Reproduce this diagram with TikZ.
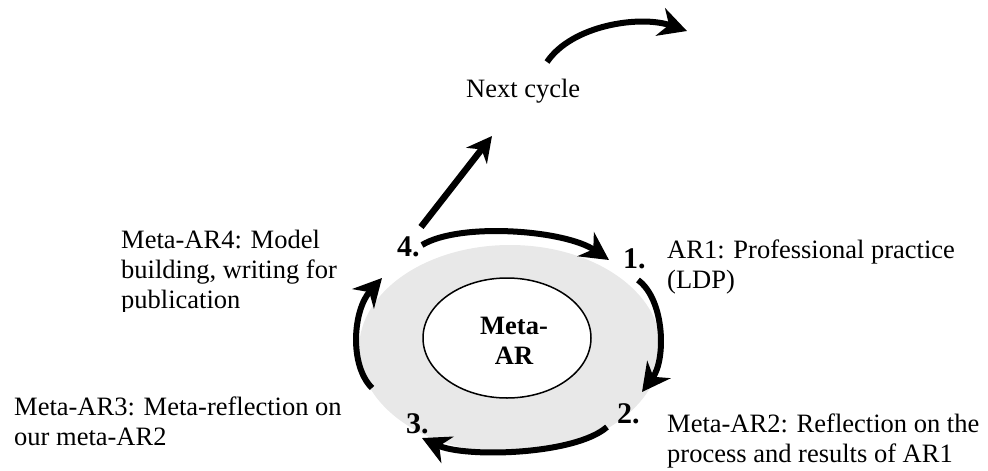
\documentclass[tikz,border=0pt]{standalone}
\usepackage{fontspec}
\setmainfont{Liberation Serif}
\usetikzlibrary{arrows.meta}
\definecolor{ringgray}{RGB}{232,232,232}
\begin{document}
\begin{tikzpicture}[x=1pt,y=-1pt,
  flow/.style={line width=6pt,-{Stealth[length=28pt,width=29pt,inset=9pt]}},
  upflow/.style={line width=6.5pt,-{Stealth[length=25pt,width=26pt,inset=8pt]}},
  lbl/.style={anchor=north west,inner sep=0pt,align=left,font=\fontsize{26.5}{30}\selectfont},
  num/.style={anchor=base west,inner sep=0pt,font=\fontsize{30}{32}\selectfont\bfseries},
  coretext/.style={inner sep=0pt,align=center,font=\fontsize{26.5}{30}\selectfont\bfseries},
]
\useasboundingbox (0,0) rectangle (988,471);
% rings
\fill[ringgray] (510,349) ellipse [x radius=151, y radius=104];
\draw[line width=1.5pt, fill=white] (507,338) ellipse [x radius=84, y radius=60];
\node[coretext] (core) at (514,341) {Meta-\\AR};
% numbers
\node[num] (n1) at (623,268) {1.};
\node[num] (n2) at (617,423) {2.};
\node[num] (n3) at (406,433) {3.};
\node[num] (n4) at (397,256) {4.};
% labels
\node[lbl] (l1) at (667,240) {AR1: Professional practice\\(LDP)};
\node[lbl] (l2) at (667,414) {Meta-AR2: Reflection on the\\process and results of AR1};
\node[lbl] (l3) at (14,397) {Meta-AR3: Meta-reflection on\\our meta-AR2};
\begin{scope}
  \clip (0,0) rectangle (400,311);
  \node[lbl] (l4) at (121,230) {Meta-AR4: Model\\building, writing for\\publication};
\end{scope}
\node[lbl] (next) at (466,79) {Next cycle};
% connector end points
\coordinate (a41s) at (422,245); \coordinate (a41e) at (609,260);
\coordinate (a12s) at (638,280); \coordinate (a12e) at (642,392);
\coordinate (a23s) at (607,427); \coordinate (a23e) at (422,438);
\coordinate (a34s) at (372,388); \coordinate (a34e) at (382,278);
\coordinate (ups) at (421,227);  \coordinate (upe) at (492,136);
\coordinate (nxs) at (547,62);   \coordinate (nxe) at (687,31);
% connectors
\draw[flow] (a41s) .. controls (460,222) and (565,230) .. (a41e);
\draw[flow] (a12s) .. controls (665,300) and (666,360) .. (a12e);
\draw[flow] (a23s) .. controls (575,455) and (465,458) .. (a23e);
\draw[flow] (a34s) .. controls (349,365) and (353,310) .. (a34e);
\draw[upflow] (ups) -- (upe);
\draw[flow] (nxs) .. controls (572,25) and (640,15) .. (nxe);
\end{tikzpicture}
\end{document}
